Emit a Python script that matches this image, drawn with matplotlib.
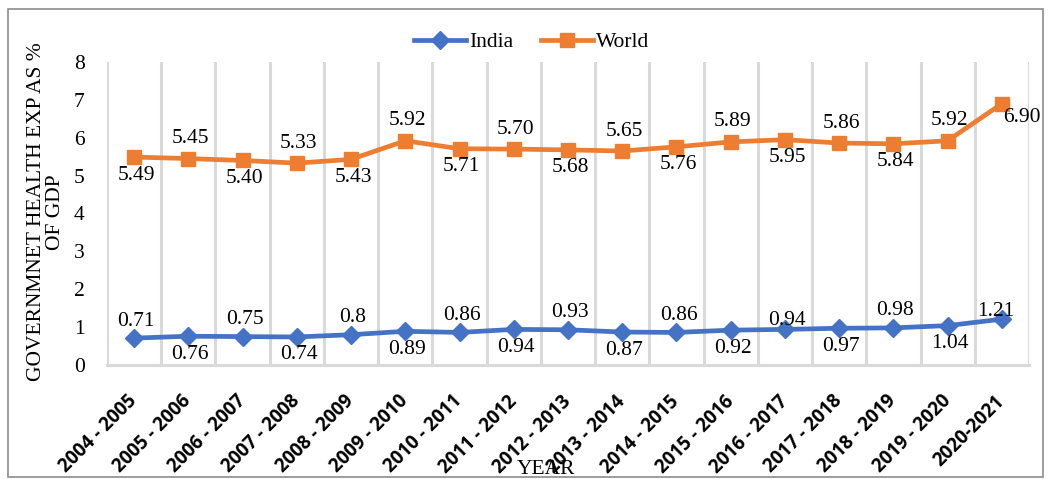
import matplotlib
matplotlib.use("Agg")
import matplotlib.pyplot as plt
from matplotlib.patches import Rectangle
import numpy as np

plt.rcParams['font.family'] = ['Liberation Serif', 'DejaVu Serif']

years = ["2004 - 2005", "2005 - 2006", "2006 - 2007", "2007 - 2008", "2008 - 2009",
         "2009 - 2010", "2010 - 2011", "2011 - 2012", "2012 - 2013", "2013 - 2014",
         "2014 - 2015", "2015 - 2016", "2016 - 2017", "2017 - 2018", "2018 - 2019",
         "2019 - 2020", "2020-2021"]
india = [0.71, 0.76, 0.75, 0.74, 0.8, 0.89, 0.86, 0.94, 0.93, 0.87, 0.86, 0.92,
         0.94, 0.97, 0.98, 1.04, 1.21]
world = [5.49, 5.45, 5.40, 5.33, 5.43, 5.92, 5.71, 5.70, 5.68, 5.65, 5.76, 5.89,
         5.95, 5.86, 5.84, 5.92, 6.90]
y_ticks = [0, 1, 2, 3, 4, 5, 6, 7, 8]

BLUE = "#4472C4"
ORANGE = "#ED7D31"
GRID = "#D9D9D9"
FS = 15.5

fig = plt.figure(figsize=(10.52, 4.79), dpi=100)
fig.patch.set_facecolor("white")
ax = fig.add_axes([107 / 1052, 1 - 365 / 479, (1029 - 107) / 1052, (365 - 62) / 479])

x = np.arange(len(years))
ax.plot(x, india, color=BLUE, lw=3.4, marker="D", ms=9.5, mfc=BLUE, mec=BLUE,
        label="India", zorder=3)
ax.plot(x, world, color=ORANGE, lw=3.4, marker="s", ms=10.5, mfc=ORANGE, mec=ORANGE,
        label="World", zorder=3)

ax.set_xlim(-0.5, len(years) - 0.5)
ax.set_ylim(0, 8)
ax.set_yticks(y_ticks)
ax.set_yticklabels([str(t) for t in y_ticks], fontsize=FS)
ax.set_xticks(x)
ax.set_xticklabels(years, fontsize=13.5, fontweight="bold", rotation=45,
                   family=["Open Sans", "DejaVu Sans"],
                   ha="right", va="center", rotation_mode="anchor")
ax.tick_params(axis="both", length=0)
ax.tick_params(axis="x", pad=24)
ax.tick_params(axis="y", pad=16)

# category boundary gridlines
for b in np.arange(-0.5, len(years), 1.0):
    ax.axvline(b, color=GRID, lw=2.2, zorder=1)
for s in ["top", "right", "left"]:
    ax.spines[s].set_visible(False)
ax.spines["bottom"].set_color(GRID)
ax.spines["bottom"].set_linewidth(2.2)

# data labels, alternating below / above
n = len(years)
for i in range(n):
    wv, iv = world[i], india[i]
    wlab = f"{wv:.2f}"
    ilab = f"{iv:g}"
    if i == n - 1:
        ax.annotate(wlab, (i, wv), xytext=(20, -14), textcoords="offset pixels",
                    ha="center", va="center", fontsize=FS)
        ax.annotate(ilab, (i, iv), xytext=(-6, 8), textcoords="offset pixels",
                    ha="center", va="center", fontsize=FS)
        continue
    wdy = -18 if i % 2 == 0 else 20
    idy = 17 if i % 2 == 0 else -18
    if i == 12:
        idy = 9
    ax.annotate(wlab, (i, wv), xytext=(2, wdy), textcoords="offset pixels",
                ha="center", va="center", fontsize=FS)
    ax.annotate(ilab, (i, iv), xytext=(2, idy), textcoords="offset pixels",
                ha="center", va="center", fontsize=FS)

fig.text(46 / 1052, 1 - 212 / 479, "GOVERNMNET HEALTH EXP AS %\nOF GDP",
         rotation=90, ha="center", va="center", fontsize=FS, multialignment="center",
         linespacing=1.0)
fig.text(546 / 1052, 1 - 469 / 479, "YEAR", ha="center", va="center", fontsize=FS)

fig.legend(loc="center", bbox_to_anchor=(532 / 1052, 1 - 42 / 479), ncol=2,
           frameon=False, fontsize=FS, handlelength=2.4, columnspacing=1.3,
           handletextpad=0.15)

fig.patches.append(Rectangle((8 / 1052, 2 / 479), 1035 / 1052, 468 / 479,
                             transform=fig.transFigure, fill=False,
                             edgecolor="#8C8C8C", lw=1.2))

fig.savefig("out.png", dpi=100)
